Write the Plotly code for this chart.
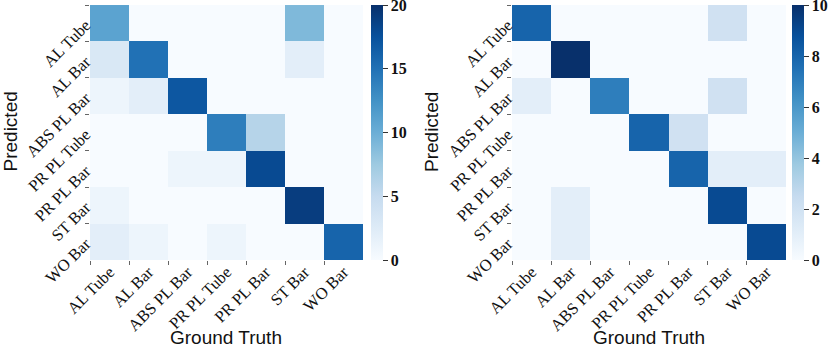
import plotly.graph_objects as go

W, H = 830, 347

labels = ["AL Tube", "AL Bar", "ABS PL Bar", "PR PL Tube", "PR PL Bar", "ST Bar", "WO Bar"]

# rows = predicted, columns = ground truth
cm_left = [
    [11, 0, 0, 0, 0, 9, 0],
    [3, 15, 0, 0, 0, 2, 0],
    [1, 2, 17, 0, 0, 0, 0],
    [0, 0, 0, 14, 6, 0, 0],
    [0, 0, 1, 1, 18, 0, 0],
    [1, 0, 0, 0, 0, 19, 0],
    [2, 1, 0, 1, 0, 0, 16],
]
cm_right = [
    [8, 0, 0, 0, 0, 2, 0],
    [0, 10, 0, 0, 0, 0, 0],
    [1, 0, 7, 0, 0, 2, 0],
    [0, 0, 0, 8, 2, 0, 0],
    [0, 0, 0, 0, 8, 1, 1],
    [0, 1, 0, 0, 0, 9, 0],
    [0, 1, 0, 0, 0, 0, 9],
]
left_ticks = [0, 5, 10, 15, 20]
right_ticks = [0, 2, 4, 6, 8, 10]

blues = [
    [0.0, "rgb(247,251,255)"], [0.125, "rgb(222,235,247)"], [0.25, "rgb(198,219,239)"],
    [0.375, "rgb(158,202,225)"], [0.5, "rgb(107,174,214)"], [0.625, "rgb(66,146,198)"],
    [0.75, "rgb(33,113,181)"], [0.875, "rgb(8,81,156)"], [1.0, "rgb(8,48,107)"],
]

serif = "Liberation Serif, Times New Roman, serif"
sans = "Liberation Sans, Arial, sans-serif"

def px_x(v):
    return v / W

def px_y(v):
    return 1 - v / H

idx = list(range(len(labels)))
edges = [i - 0.5 for i in idx]

def cbar(x0, ticks):
    return dict(
        x=px_x(x0), xanchor="left", xpad=0, ypad=0,
        y=px_y(132.5), yanchor="middle",
        len=255 / H, lenmode="fraction", thickness=12,
        outlinewidth=0, ticks="outside", ticklen=5, tickcolor="#333",
        ticklabeloverflow="allow",
        tickvals=ticks, tickfont=dict(family=serif, size=16, color="#111", weight="bold"),
    )

fig = go.Figure()
fig.add_trace(go.Heatmap(z=cm_left, x=idx, y=idx, colorscale=blues, zmin=0, zmax=20.0001,
                         colorbar=cbar(371, left_ticks), xaxis="x", yaxis="y"))
fig.add_trace(go.Heatmap(z=cm_right, x=idx, y=idx, colorscale=blues, zmin=0, zmax=10.0001,
                         colorbar=cbar(792, right_ticks), xaxis="x2", yaxis="y2"))

# labels sit on cell centres, the small tick marks on the cell edges
ax_common = dict(showgrid=False, zeroline=False, showline=False, automargin=False,
                 ticks="outside", ticklen=0, tickangle=-45, tickvals=idx, ticktext=labels,
                 ticklabeloverflow="allow",
                 tickfont=dict(family=serif, size=16.5, color="#111"),
                 minor=dict(tickvals=edges, ticks="outside", ticklen=4, tickcolor="#666", showgrid=False))
x_common = dict(ax_common, ticklabelstandoff=-5)

fig.update_layout(
    width=W, height=H, margin=dict(l=0, r=0, t=0, b=0, autoexpand=False),
    paper_bgcolor="white", plot_bgcolor="white",
    xaxis=dict(domain=[px_x(90), px_x(363)], range=[-0.5, 6.5], anchor="y", **x_common),
    yaxis=dict(domain=[px_y(260), px_y(5)], range=[6.5, -0.5005], anchor="x", **ax_common),
    xaxis2=dict(domain=[px_x(512), px_x(786)], range=[-0.5, 6.5], anchor="y2", **x_common),
    yaxis2=dict(domain=[px_y(260), px_y(5)], range=[6.5, -0.5005], anchor="x2", **ax_common),
)

for cx in (9.5, 431):
    fig.add_annotation(text="Predicted", x=px_x(cx), y=px_y(132), xref="paper", yref="paper",
                       textangle=-90, showarrow=False, xanchor="center", yanchor="middle",
                       font=dict(family=sans, size=19, color="#111"))
for cx in (226, 649):
    fig.add_annotation(text="Ground Truth", x=px_x(cx), y=px_y(337.5), xref="paper", yref="paper",
                       showarrow=False, xanchor="center", yanchor="middle",
                       font=dict(family=sans, size=19, color="#111"))

# the page's default body margin would push the figure 8px off the window
fig.write_html("out.html", config={"displayModeBar": False},
               post_script="document.body.style.margin = '0';")
